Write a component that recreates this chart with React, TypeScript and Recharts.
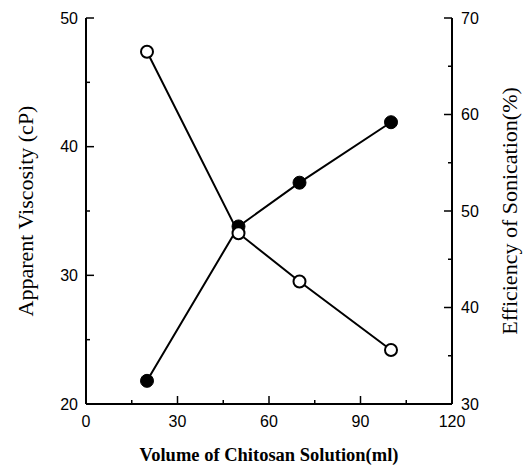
import React from 'react';
import { LineChart, Line, XAxis, YAxis, Label } from 'recharts';

// values
const volumes = [20, 50, 70, 100];
const viscosity = [21.8, 33.8, 37.2, 41.9];
const efficiency = [66.5, 47.7, 42.7, 35.6];

const xTicks = [0, 15, 30, 45, 60, 75, 90, 105, 120];
const leftTicks = [20, 25, 30, 35, 40, 45, 50];
const rightTicks = [30, 35, 40, 45, 50, 55, 60, 65, 70];

const data = volumes.map((v, i) => ({ volume: v, viscosity: viscosity[i], efficiency: efficiency[i] }));

const tickFont = { fontFamily: '"Liberation Sans", Arial, sans-serif', fontSize: 16, fill: '#000' };
const titleFont = { fontFamily: '"Liberation Serif", "Times New Roman", serif', fontSize: 22, fill: '#000' };

function LeftTick(props: any) {
  const { x, y, payload } = props;
  const major = payload.value % 10 === 0;
  return (
    <g>
      <line x1={x} x2={x + (major ? 8 : 4)} y1={y} y2={y} stroke="#000" strokeWidth={1.5} />
      {major && (
        <text x={x - 8} y={y} textAnchor="end" dominantBaseline="central" style={tickFont}>
          {payload.value}
        </text>
      )}
    </g>
  );
}

function RightTick(props: any) {
  const { x, y, payload } = props;
  const major = payload.value % 10 === 0;
  return (
    <g>
      <line x1={x} x2={x - (major ? 8 : 4)} y1={y} y2={y} stroke="#000" strokeWidth={1.5} />
      {major && (
        <text x={x + 9} y={y} textAnchor="start" dominantBaseline="central" style={tickFont}>
          {payload.value}
        </text>
      )}
    </g>
  );
}

function BottomTick(props: any) {
  const { x, y, payload } = props;
  const major = payload.value % 30 === 0;
  return (
    <g>
      <line x1={x} x2={x} y1={y} y2={y - (major ? 8 : 4)} stroke="#000" strokeWidth={1.5} />
      {major && (
        <text x={x} y={y + 17} textAnchor="middle" dominantBaseline="central" style={tickFont}>
          {payload.value}
        </text>
      )}
    </g>
  );
}

export default function App() {
  return (
    <div style={{ position: 'absolute', left: 0, top: 0, background: '#fff' }}>
      <LineChart width={524} height={466} data={data} margin={{ top: 18, right: 0, bottom: 0, left: 0 }}>
        <XAxis
          xAxisId="bottom"
          type="number"
          dataKey="volume"
          domain={[0, 120]}
          ticks={xTicks}
          interval={0}
          height={62}
          tickSize={0}
          tickMargin={0}
          tickLine={false}
          axisLine={{ stroke: '#000', strokeWidth: 2 }}
          tick={(p: any) => <BottomTick {...p} />}
        >
          <Label
            value="Volume of Chitosan Solution(ml)"
            position="insideBottom"
            offset={5}
            style={{ ...titleFont, fontSize: 18.5, fontWeight: 'bold' }}
          />
        </XAxis>
        <XAxis
          xAxisId="top"
          orientation="top"
          type="number"
          dataKey="volume"
          domain={[0, 120]}
          height={0}
          tick={false}
          tickLine={false}
          axisLine={{ stroke: '#000', strokeWidth: 2 }}
        />
        <YAxis
          yAxisId="left"
          orientation="left"
          domain={[20, 50]}
          ticks={leftTicks}
          interval={0}
          width={86}
          tickSize={0}
          tickMargin={0}
          tickLine={false}
          axisLine={{ stroke: '#000', strokeWidth: 2 }}
          tick={(p: any) => <LeftTick {...p} />}
        >
          <Label
            value="Apparent Viscosity (cP)"
            angle={-90}
            position="insideLeft"
            offset={25}
            textAnchor="middle"
            style={titleFont}
          />
        </YAxis>
        <YAxis
          yAxisId="right"
          orientation="right"
          domain={[30, 70]}
          ticks={rightTicks}
          interval={0}
          width={72}
          tickSize={0}
          tickMargin={0}
          tickLine={false}
          axisLine={{ stroke: '#000', strokeWidth: 2 }}
          tick={(p: any) => <RightTick {...p} />}
        >
          <Label
            value="Efficiency of Sonication(%)"
            angle={-90}
            position="insideRight"
            offset={15}
            textAnchor="middle"
            style={titleFont}
          />
        </YAxis>
        <Line
          xAxisId="bottom"
          yAxisId="left"
          dataKey="viscosity"
          type="linear"
          stroke="#000"
          strokeWidth={2}
          dot={{ r: 6.5, fill: '#000', stroke: '#000', strokeWidth: 1 }}
          isAnimationActive={false}
        />
        <Line
          xAxisId="bottom"
          yAxisId="right"
          dataKey="efficiency"
          type="linear"
          stroke="#000"
          strokeWidth={2}
          dot={{ r: 6, fill: '#fff', stroke: '#000', strokeWidth: 2 }}
          isAnimationActive={false}
        />
      </LineChart>
    </div>
  );
}
